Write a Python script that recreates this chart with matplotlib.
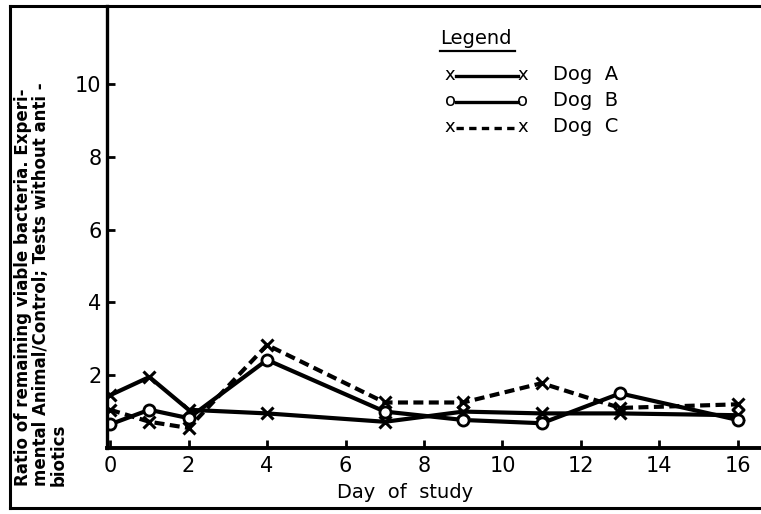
import matplotlib.pyplot as plt
from matplotlib.lines import Line2D

days = [0, 1, 2, 4, 7, 9, 11, 13, 16]
dog_a = [1.45, 1.95, 1.05, 0.95, 0.72, 1.0, 0.95, 0.95, 0.9]
dog_b = [0.65, 1.05, 0.82, 2.42, 1.0, 0.77, 0.68, 1.5, 0.77]
dog_c = [1.05, 0.72, 0.55, 2.83, 1.25, 1.25, 1.78, 1.1, 1.2]

x_ticks = [0, 2, 4, 6, 8, 10, 12, 14, 16]
y_ticks = [2, 4, 6, 8, 10]

W, H = 761, 514


def px(x, y):
    """pixel position (from top-left) -> figure fraction"""
    return x / W, 1 - y / H


fig = plt.figure(figsize=(W / 100, H / 100), dpi=100)
ax = fig.add_axes([107 / W, 1 - 448 / H, 1 - 107 / W, (448 - 6) / H])

lw = 3.0
ax.plot(days, dog_a, color='k', lw=lw, marker='x', ms=9, mew=2.2)
ax.plot(days, dog_b, color='k', lw=lw, marker='o', ms=8, mew=2.0, mfc='white')
ax.plot(days, dog_c, color='k', lw=lw, ls=(0, (2.4, 1.3)), marker='x', ms=9, mew=2.2)

ax.set_xlim(-0.08, 16.59)
ax.set_ylim(0, 12.14)
ax.set_xticks(x_ticks)
ax.set_yticks(y_ticks)
ax.tick_params(axis='both', direction='in', length=6, width=2, labelsize=15, pad=6)
ax.tick_params(axis='y', pad=4)
for s in ['top', 'right']:
    ax.spines[s].set_visible(False)
ax.spines['left'].set_linewidth(2.4)
ax.spines['bottom'].set_linewidth(2.8)
ax.set_xlabel('Day  of  study', fontsize=14)
ax.xaxis.set_label_coords((405 - 107) / (W - 107), -(493 - 448) / (448 - 6), transform=ax.transAxes)
ax.xaxis.label.set_va('center')

# frame round the whole figure
frame_kw = dict(color='k', lw=2.2, transform=fig.transFigure)
fig.add_artist(Line2D(*zip(px(10, 6), px(10, 508)), **frame_kw))
fig.add_artist(Line2D(*zip(px(10, 6), px(761, 6)), **frame_kw))
fig.add_artist(Line2D(*zip(px(10, 508), px(761, 508)), **frame_kw))

fig.text(*px(14, 486),
         'Ratio of remaining viable bacteria. Experi-\n'
         'mental Animal/Control; Tests without anti -\n'
         'biotics',
         rotation=90, ha='left', va='bottom', fontsize=12, fontweight='bold',
         linespacing=1.0, multialignment='left')

# hand-drawn style legend
fig.text(*px(440, 39), 'Legend', fontsize=14, ha='left', va='center')
fig.add_artist(Line2D(*zip(px(440, 51), px(515, 51)), color='k', lw=1.6,
                      transform=fig.transFigure))
entries = [('x', '-', 'Dog  A', 75), ('o', '-', 'Dog  B', 101), ('x', '--', 'Dog  C', 127)]
for sym, style, label, y in entries:
    fig.text(*px(450, y), sym, fontsize=13, ha='center', va='center')
    fig.text(*px(523, y), sym, fontsize=13, ha='center', va='center')
    dash = (0, (2.2, 1.6)) if style == '--' else '-'
    fig.add_artist(Line2D(*zip(px(456, y + 1), px(518, y + 1)), color='k', lw=2.4,
                          ls=dash, transform=fig.transFigure))
    fig.text(*px(553, y), label, fontsize=14, ha='left', va='center')

fig.savefig('out.png', dpi=100)
